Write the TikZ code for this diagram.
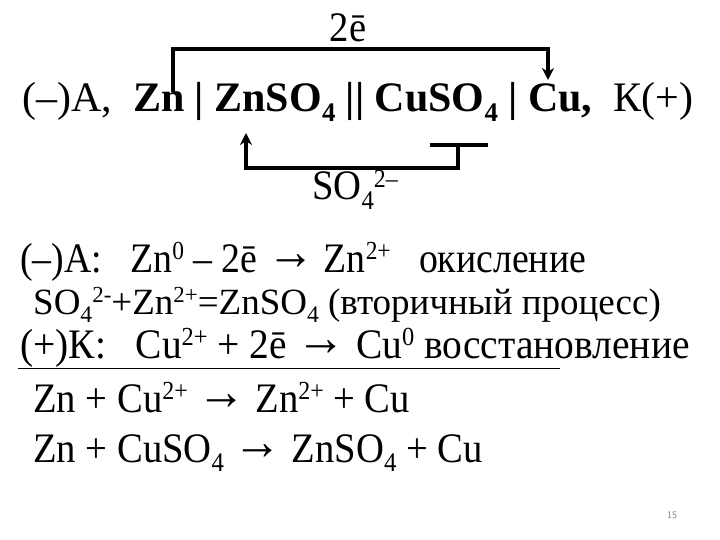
\documentclass[tikz,border=0pt]{standalone}
\usepackage{fontspec}
\setmainfont{Liberation Serif}
\usetikzlibrary{arrows.meta}
\newcommand{\up}[1]{\raisebox{0.3em}{\fontsize{0.62em}{0.62em}\selectfont #1}}
\newcommand{\dn}[1]{\raisebox{-0.22em}{\fontsize{0.64em}{0.64em}\selectfont #1}}
\newcommand{\ar}{\raisebox{0.05em}{\scalebox{1.25}{→}}}
\begin{document}
\begin{tikzpicture}[x=1pt,y=-1pt,
  txt/.style={inner sep=0pt,anchor=base west,font=\fontsize{42}{46}\selectfont},
  ln/.style={line width=4pt},
  arr/.style={ln,-{Stealth[length=12pt,width=12pt]}}]
\useasboundingbox (0,0) rectangle (720,540);
\fill[white] (0,0) rectangle (720,540);
\node[txt,anchor=base] (e) at (348,42) {\scalebox{0.92}[1]{2ē}};
\node[txt] (l1) at (22,112) {(–)A,\enspace\textbf{Zn | ZnSO\dn{4} || CuSO\dn{4} | Cu,}\enspace К(+)};
\coordinate (a1) at (173,92);
\coordinate (a2) at (173,49);
\coordinate (a3) at (548,49);
\coordinate (a4) at (548,80);
\draw[arr] (a1) -- (a2) -- (a3) -- (a4);
\coordinate (b1) at (430,145);
\coordinate (b2) at (488,145);
\coordinate (b3) at (458,145);
\coordinate (b4) at (458,168);
\coordinate (b5) at (246,168);
\coordinate (b6) at (246,133);
\draw[ln] (b1) -- (b2);
\draw[arr] (b3) -- (b4) -- (b5) -- (b6);
\node[txt] (so) at (312,200) {\scalebox{0.92}[1]{SO\dn{4}\up{2–}}};
\node[txt] (l2) at (20,272) {\scalebox{0.9}[1]{(–)A:\enspace\ Zn\up{0} – 2ē \ar{} Zn\up{2+}\enspace\ окисление}};
\node[txt,font=\fontsize{37}{40}\selectfont] (l3) at (33,314) {\scalebox{1.0}[1]{SO\dn{4}\up{2-}+Zn\up{2+}=ZnSO\dn{4} (вторичный процесс)}};
\node[txt] (l4) at (20,358) {\scalebox{0.94}[1]{(+)К:\enspace\ Cu\up{2+} + 2ē \ar{} Cu\up{0} восстановление}};
\coordinate (u1) at (18,368);
\coordinate (u2) at (560,368);
\draw[line width=1pt] (u1) -- (u2);
\node[txt] (l5) at (33,412) {\scalebox{0.92}[1]{Zn + Cu\up{2+} \ar{} Zn\up{2+} + Cu}};
\node[txt] (l6) at (33,462) {\scalebox{0.92}[1]{Zn + CuSO\dn{4} \ar{} ZnSO\dn{4} + Cu}};
\node[inner sep=0pt,font=\fontsize{10}{12}\selectfont\sffamily,text=gray] (pg) at (672,515) {15};
\end{tikzpicture}
\end{document}
